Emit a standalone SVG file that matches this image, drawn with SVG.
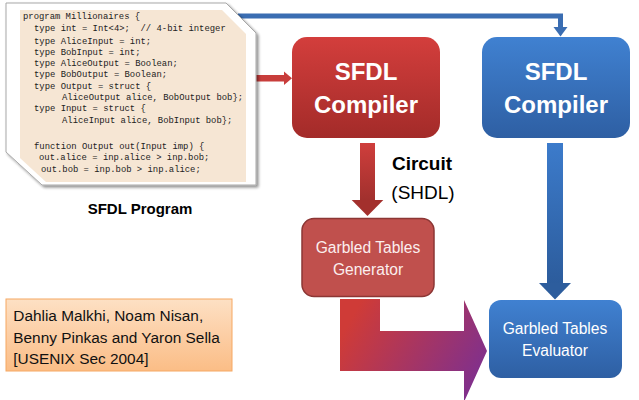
<svg xmlns="http://www.w3.org/2000/svg" width="639" height="400" viewBox="0 0 639 400">
<defs>
<linearGradient id="gRed" x1="0" y1="0" x2="0" y2="1"><stop offset="0" stop-color="#d33e3c"/><stop offset="1" stop-color="#a32b29"/></linearGradient>
<linearGradient id="gBlue" x1="0" y1="0" x2="0" y2="1"><stop offset="0" stop-color="#4081d1"/><stop offset="1" stop-color="#2e5fa3"/></linearGradient>
<linearGradient id="gRedArrow" x1="0" y1="0" x2="0" y2="1"><stop offset="0" stop-color="#cf3e3c"/><stop offset="1" stop-color="#a0302d"/></linearGradient>
<linearGradient id="gBlueArrow" x1="0" y1="0" x2="0" y2="1"><stop offset="0" stop-color="#3c7bcb"/><stop offset="1" stop-color="#2c5c9c"/></linearGradient>
<linearGradient id="gBig" gradientUnits="userSpaceOnUse" x1="350" y1="320" x2="480" y2="395"><stop offset="0" stop-color="#cf3b37"/><stop offset="1" stop-color="#7b2f92"/></linearGradient>
<linearGradient id="gPeach" x1="0" y1="0" x2="0" y2="1"><stop offset="0" stop-color="#fde0c4"/><stop offset="1" stop-color="#fbbd86"/></linearGradient>
<filter id="sh" x="-10%" y="-10%" width="130%" height="130%"><feGaussianBlur in="SourceAlpha" stdDeviation="1.5"/><feOffset dx="1.5" dy="1.5"/><feComponentTransfer><feFuncA type="linear" slope="0.45"/></feComponentTransfer><feMerge><feMergeNode/><feMergeNode in="SourceGraphic"/></feMerge></filter>
</defs>
<style>
.code{font-family:"Liberation Mono","Courier New",monospace;font-size:8.9px;fill:#222;white-space:pre}
.big{font-family:"Liberation Sans",Arial,sans-serif;font-weight:bold;font-size:24px;fill:#fff;text-anchor:middle}
.mid{font-family:"Liberation Sans",Arial,sans-serif;font-size:15.6px;fill:#fbeeee;text-anchor:middle}
.lab{font-family:"Liberation Sans",Arial,sans-serif;font-size:19px;fill:#000;text-anchor:middle}
.cit{font-family:"Liberation Sans",Arial,sans-serif;font-size:15.4px;fill:#111}
</style>
<rect width="639" height="400" fill="#fff"/>

<g id="connectors">
<polyline points="238,16 560.5,16 560.5,28" fill="none" stroke="#3a6db2" stroke-width="5"/>
<polygon points="553.5,27 567.5,27 560.5,36.5" fill="#3a6db2"/>
<rect x="255" y="75" width="30" height="6.5" fill="#c83d3b"/>
<polygon points="284,71.5 292,78.2 284,85" fill="#c83d3b"/>
<rect x="360" y="143" width="15" height="58" fill="url(#gRedArrow)"/>
<polygon points="351.7,200 383.3,200 367.5,216" fill="#a3302d"/>
<rect x="547" y="143" width="16" height="141" fill="url(#gBlueArrow)"/>
<polygon points="539,283 571,283 555,299.5" fill="#2d5d9d"/>
<polygon points="340,299 380,299 380,331 464,331 464,300 487,351 464,402 464,371 340,371" fill="url(#gBig)"/>
</g>

<g id="sfdl-program">
<polygon points="6,3 226,3 256,33 256,185 42,185 6,152" fill="#fff" stroke="#a8a8a8" stroke-width="1" filter="url(#sh)"/>
<polygon points="20,10 222,10 246,34 246,182 46,182 20,158" fill="#f6e6d4"/>
<text class="code" x="23" y="18.5">program Millionaires {</text>
<text class="code" x="34" y="31">type int = Int&lt;4&gt;;  // 4-bit integer</text>
<text class="code" x="34" y="43.5">type AliceInput = int;</text>
<text class="code" x="34" y="54.5">type BobInput = int;</text>
<text class="code" x="34" y="66">type AliceOutput = Boolean;</text>
<text class="code" x="34" y="77">type BobOutput = Boolean;</text>
<text class="code" x="34" y="88.7">type Output = struct {</text>
<text class="code" x="62" y="100.3">AliceOutput alice, BobOutput bob};</text>
<text class="code" x="34" y="111.3">type Input = struct {</text>
<text class="code" x="62" y="123">AliceInput alice, BobInput bob};</text>
<text class="code" x="34" y="148.7">function Output out(Input imp) {</text>
<text class="code" x="39" y="160.3">out.alice = inp.alice &gt; inp.bob;</text>
<text class="code" x="41" y="172">out.bob = inp.bob &gt; inp.alice;</text>
<text class="lab" x="140" y="214" style="font-weight:bold;font-size:15px">SFDL Program</text>
</g>

<g id="compiler-red">
<rect x="292" y="37" width="148" height="101" rx="15" fill="url(#gRed)"/>
<text class="big" x="366" y="80">SFDL</text>
<text class="big" x="366" y="113">Compiler</text>
</g>

<g id="compiler-blue">
<rect x="482" y="37" width="148" height="101" rx="15" fill="url(#gBlue)"/>
<text class="big" x="556" y="80">SFDL</text>
<text class="big" x="556" y="113">Compiler</text>
</g>

<g id="circuit-label">
<text class="lab" x="422" y="170" style="font-weight:bold">Circuit</text>
<text class="lab" x="423" y="199">(SHDL)</text>
</g>

<g id="generator">
<rect x="302" y="218.5" width="132" height="78" rx="12" fill="#c0504d" stroke="#8c3634" stroke-width="1.5"/>
<text class="mid" x="368" y="253">Garbled Tables</text>
<text class="mid" x="368" y="275">Generator</text>
</g>

<g id="evaluator">
<rect x="489" y="300" width="133" height="78" rx="12" fill="url(#gBlue)"/>
<text class="mid" x="555" y="334" style="fill:#fff">Garbled Tables</text>
<text class="mid" x="555" y="356" style="fill:#fff">Evaluator</text>
</g>

<g id="citation">
<rect x="6" y="299" width="226" height="72" fill="url(#gPeach)" stroke="#f6a862" stroke-width="1"/>
<text class="cit" x="13.3" y="321">Dahlia Malkhi, Noam Nisan,</text>
<text class="cit" x="13.3" y="342.5">Benny Pinkas and Yaron Sella</text>
<text class="cit" x="13.3" y="363.5">[USENIX Sec 2004]</text>
</g>
</svg>
